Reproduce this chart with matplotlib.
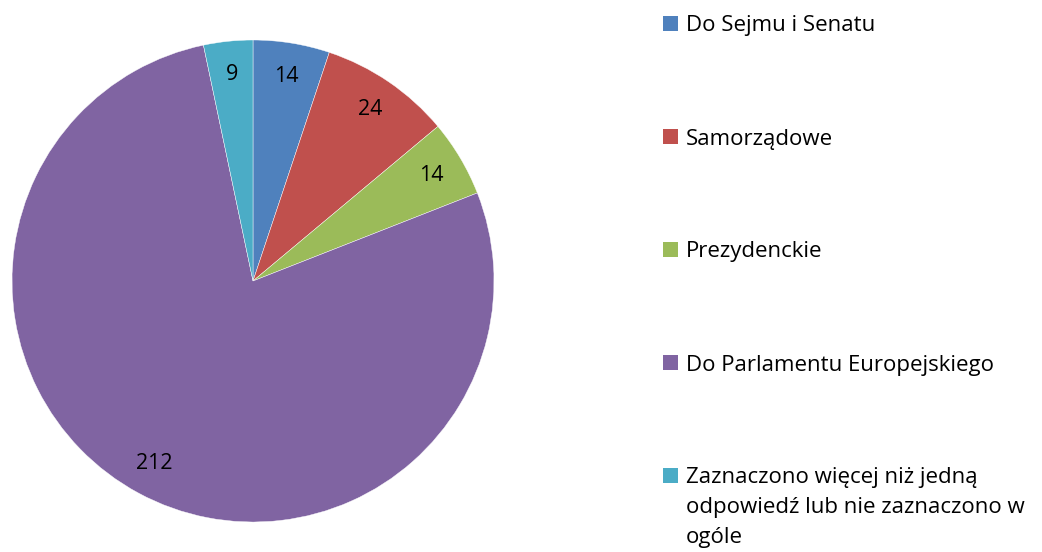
import matplotlib.pyplot as plt
from matplotlib.patches import Rectangle

# Data
categories = [
    "Do Sejmu i Senatu",
    "Samorządowe",
    "Prezydenckie",
    "Do Parlamentu Europejskiego",
    "Zaznaczono więcej niż jedną\nodpowiedź lub nie zaznaczono w\nogóle",
]
counts = [14, 24, 14, 212, 9]
colors = ["#4F81BD", "#C0504D", "#9BBB59", "#8064A2", "#4BACC6"]

plt.rcParams["font.family"] = ["Open Sans", "DejaVu Sans"]

W, H = 1042, 552
fig = plt.figure(figsize=(W / 100, H / 100), dpi=100)

# Pie axes placed in pixel terms: center (253, 281), radius 241
cx, cy, r = 253, 281, 241
ax = fig.add_axes([(cx - r) / W, (H - cy - r) / H, 2 * r / W, 2 * r / H])
total = sum(counts)
ax.pie(
    counts,
    colors=colors,
    startangle=90,
    counterclock=False,
    radius=1.0,
    autopct=lambda p: f"{round(p * total / 100):.0f}",
    pctdistance=0.86,
    textprops={"fontsize": 15.5, "color": "black"},
    wedgeprops={"linewidth": 0.3, "edgecolor": "white"},
)
ax.set_xlim(-1, 1)
ax.set_ylim(-1, 1)
ax.set_aspect("equal")
ax.axis("off")

# Legend drawn manually to mimic spacing
sq = 15
for i, (lab, col) in enumerate(zip(categories, colors)):
    yc = 23.5 + i * 113  # center of marker / first line in px
    fig.add_artist(Rectangle((663 / W, (H - yc - sq / 2) / H), sq / W, sq / H,
                             transform=fig.transFigure, facecolor=col, edgecolor="none"))
    for j, line in enumerate(lab.split("\n")):
        fig.text(686 / W, (H - yc - 8 - j * 30) / H, line, fontsize=16,
                 va="baseline", ha="left")

fig.savefig("out.png", dpi=100)
